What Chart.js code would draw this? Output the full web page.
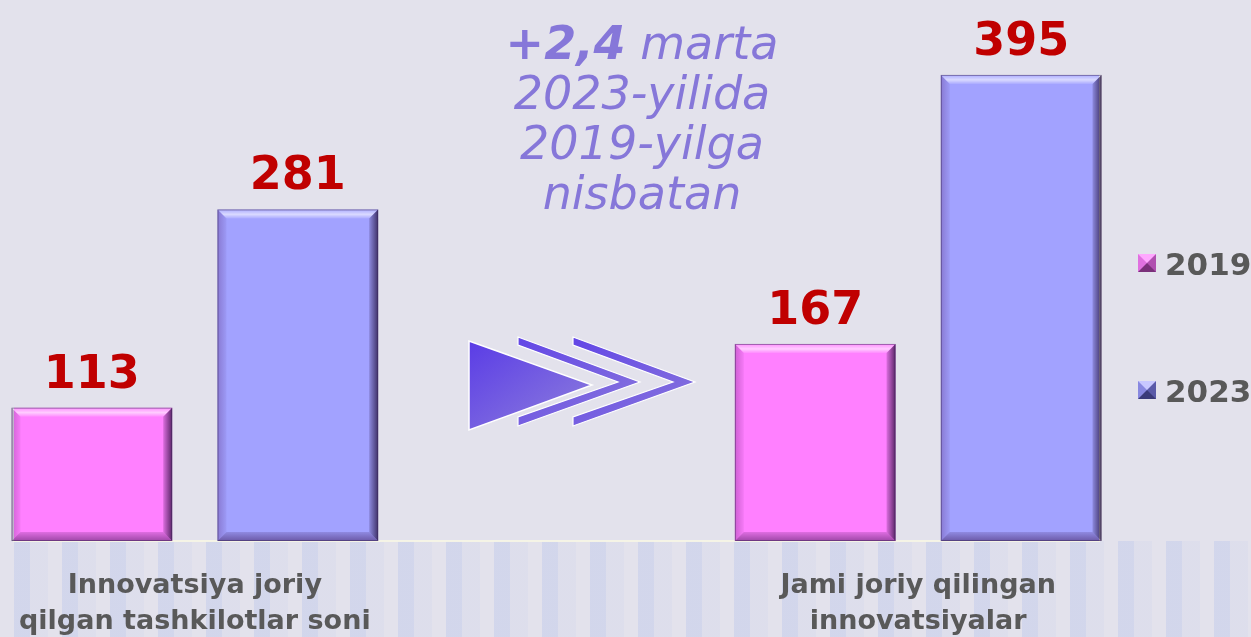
<!DOCTYPE html>
<html>
<head>
<meta charset="utf-8">
<script src="https://cdn.jsdelivr.net/npm/chart.js@4.4.1/dist/chart.umd.min.js"></script>
<style>
  html, body { margin: 0; padding: 0; }
  body {
    width: 1251px; height: 637px; overflow: hidden; position: relative;
    background: #e3e2ec;
    font-family: "DejaVu Sans", Verdana, sans-serif;
  }
  #stripes {
    position: absolute; left: 0; top: 541px; width: 1251px; height: 96px;
    background: repeating-linear-gradient(90deg,
      rgba(190,200,235,0) 0px, rgba(190,200,235,0) 14px,
      rgba(190,200,235,0.45) 14px, rgba(190,200,235,0.45) 30px,
      rgba(190,200,235,0.15) 30px, rgba(190,200,235,0.15) 48px);
  }
  #chart { position: absolute; left: 0; top: 0; }
  #note {
    position: absolute; left: 442px; top: 18px; width: 400px;
    text-align: center; color: #8677d9; font-style: italic;
    font-size: 46px; line-height: 50px;
  }
  #note b { font-weight: bold; }
  #arrow { position: absolute; left: 0; top: 0; }
  .legend-item {
    position: absolute; left: 1138px; color: #595959; white-space: nowrap;
    font-weight: bold; font-size: 31px; line-height: 31px;
  }
  .legend-item .ico {
    display: inline-block; width: 0; height: 0; vertical-align: 3px;
    border-style: solid; border-width: 9px; margin-right: 9px;
  }
</style>
</head>
<body>
<div id="stripes"></div>
<canvas id="chart" width="1251" height="637"></canvas>
<svg id="arrow" width="1251" height="637">
  <defs>
    <linearGradient id="ag" x1="0" y1="0" x2="1" y2="1">
      <stop offset="0" stop-color="#5a3ce6"/>
      <stop offset="1" stop-color="#8f80dc"/>
    </linearGradient>
    <linearGradient id="ag2" x1="0" y1="0" x2="1" y2="1">
      <stop offset="0" stop-color="#6246e6"/>
      <stop offset="1" stop-color="#8a78dc"/>
    </linearGradient>
  </defs>
  <polygon points="469,341 469,430 592,385" fill="url(#ag)" stroke="#fff" stroke-width="1.5"/>
  <polygon points="518,337 640,382 518,426 518,417 618,382 518,345" fill="url(#ag2)" stroke="#fff" stroke-width="1.2"/>
  <polygon points="573,337 695,382 573,426 573,417 673,382 573,345" fill="url(#ag2)" stroke="#fff" stroke-width="1.2"/>
</svg>
<div id="note"><b>+2,4</b> marta<br>2023-yilida<br>2019-yilga<br>nisbatan</div>
<div id="legend"></div>

<script>
// --- Données ---
const CATEGORIES = [
  ['Innovatsiya joriy', 'qilgan tashkilotlar soni'],
  '',
  ['Jami joriy qilingan', 'innovatsiyalar'],
];
const SERIES_LABELS = ['2019', '2023'];
const VALUES_2019 = [113, null, 167];
const VALUES_2023 = [281, null, 395];

// Couleurs
const COLORS = {
  pink:   '#ff80ff',
  purple: '#a2a2ff',
  label:  '#c00000',
  text:   '#595959',
};

// Biseau façon PowerPoint sur chaque barre
const bevelPlugin = {
  id: 'bevel',
  afterDatasetsDraw(chart) {
    const ctx = chart.ctx;
    const b = 9;
    chart.data.datasets.forEach((ds, i) => {
      chart.getDatasetMeta(i).data.forEach((bar, j) => {
        if (ds.data[j] == null) return;
        const l = bar.x - bar.width / 2, r = bar.x + bar.width / 2;
        const t = bar.y, bt = bar.base;
        ctx.save();
        // haut (clair)
        let g = ctx.createLinearGradient(0, t, 0, t + b);
        g.addColorStop(0, 'rgba(255,255,255,0.1)');
        g.addColorStop(0.55, 'rgba(255,255,255,0.6)');
        g.addColorStop(1, 'rgba(255,255,255,0.1)');
        ctx.fillStyle = g;
        ctx.beginPath();
        ctx.moveTo(l, t); ctx.lineTo(r, t); ctx.lineTo(r - b, t + b); ctx.lineTo(l + b, t + b);
        ctx.fill();
        // gauche
        g = ctx.createLinearGradient(l, 0, l + b, 0);
        g.addColorStop(0, 'rgba(60,0,80,0.25)');
        g.addColorStop(1, 'rgba(60,0,80,0.05)');
        ctx.fillStyle = g;
        ctx.beginPath();
        ctx.moveTo(l, t); ctx.lineTo(l + b, t + b); ctx.lineTo(l + b, bt - b); ctx.lineTo(l, bt);
        ctx.fill();
        // droite (sombre)
        g = ctx.createLinearGradient(r - b, 0, r, 0);
        g.addColorStop(0, 'rgba(20,0,40,0.15)');
        g.addColorStop(1, 'rgba(20,0,40,0.7)');
        ctx.fillStyle = g;
        ctx.beginPath();
        ctx.moveTo(r, t); ctx.lineTo(r, bt); ctx.lineTo(r - b, bt - b); ctx.lineTo(r - b, t + b);
        ctx.fill();
        // bas
        g = ctx.createLinearGradient(0, bt - b, 0, bt);
        g.addColorStop(0, 'rgba(40,0,60,0.15)');
        g.addColorStop(1, 'rgba(40,0,60,0.45)');
        ctx.fillStyle = g;
        ctx.beginPath();
        ctx.moveTo(l, bt); ctx.lineTo(r, bt); ctx.lineTo(r - b, bt - b); ctx.lineTo(l + b, bt - b);
        ctx.fill();
        // contour fin
        ctx.strokeStyle = 'rgba(60,40,90,0.5)';
        ctx.lineWidth = 1;
        ctx.strokeRect(l + 0.5, t + 0.5, r - l - 1, bt - t - 1);
        ctx.restore();
      });
    });
  },
};

// Valeurs au-dessus des barres
const valueLabels = {
  id: 'valueLabels',
  afterDatasetsDraw(chart) {
    const ctx = chart.ctx;
    ctx.save();
    ctx.font = 'bold 46px "DejaVu Sans"';
    ctx.fillStyle = COLORS.label;
    ctx.textAlign = 'center';
    ctx.textBaseline = 'alphabetic';
    chart.data.datasets.forEach((ds, i) => {
      chart.getDatasetMeta(i).data.forEach((bar, j) => {
        if (ds.data[j] == null) return;
        ctx.fillText(String(ds.data[j]), bar.x, bar.y - 20);
      });
    });
    ctx.restore();
  },
};

const chart = new Chart(document.getElementById('chart'), {
  type: 'bar',
  data: {
    labels: CATEGORIES,
    datasets: [
      { label: SERIES_LABELS[0], data: VALUES_2019, backgroundColor: COLORS.pink },
      { label: SERIES_LABELS[1], data: VALUES_2023, backgroundColor: COLORS.purple },
    ],
  },
  options: {
    responsive: false,
    animation: false,
    categoryPercentage: 1.139,
    barPercentage: 0.78,
    layout: { padding: { left: 14, right: 152, top: 10, bottom: 0 } },
    plugins: { legend: { display: false }, tooltip: { enabled: false } },
    scales: {
      x: {
        grid: { display: false, drawTicks: false },
        border: { color: 'rgba(245,244,230,0.95)', width: 2 },
        ticks: {
          color: COLORS.text,
          font: { family: 'DejaVu Sans', size: 27, weight: 'bold', lineHeight: 1.33 },
          padding: 27,
          maxRotation: 0,
          autoSkip: false,
        },
        afterFit: s => { s.height = 96; s.paddingLeft = 0; s.paddingRight = 0; },
      },
      y: { display: false, min: 0, max: 450 },
    },
  },
  plugins: [bevelPlugin, valueLabels],
});

// Légende HTML (icônes pyramide)
const legendTops = [249, 376];
const legendIcons = [
  ['#ffa8ff', '#b050b0', '#7a307a', '#e070e0'],
  ['#c8c8ff', '#5a5aa8', '#3a3a78', '#8888e0'],
];
const legend = document.getElementById('legend');
SERIES_LABELS.forEach((lab, i) => {
  const div = document.createElement('div');
  div.className = 'legend-item';
  div.style.top = legendTops[i] + 'px';
  const c = legendIcons[i];
  div.innerHTML = '<span class="ico" style="border-color:' + c.join(' ') + '"></span>' + lab;
  legend.appendChild(div);
});
</script>
</body>
</html>
